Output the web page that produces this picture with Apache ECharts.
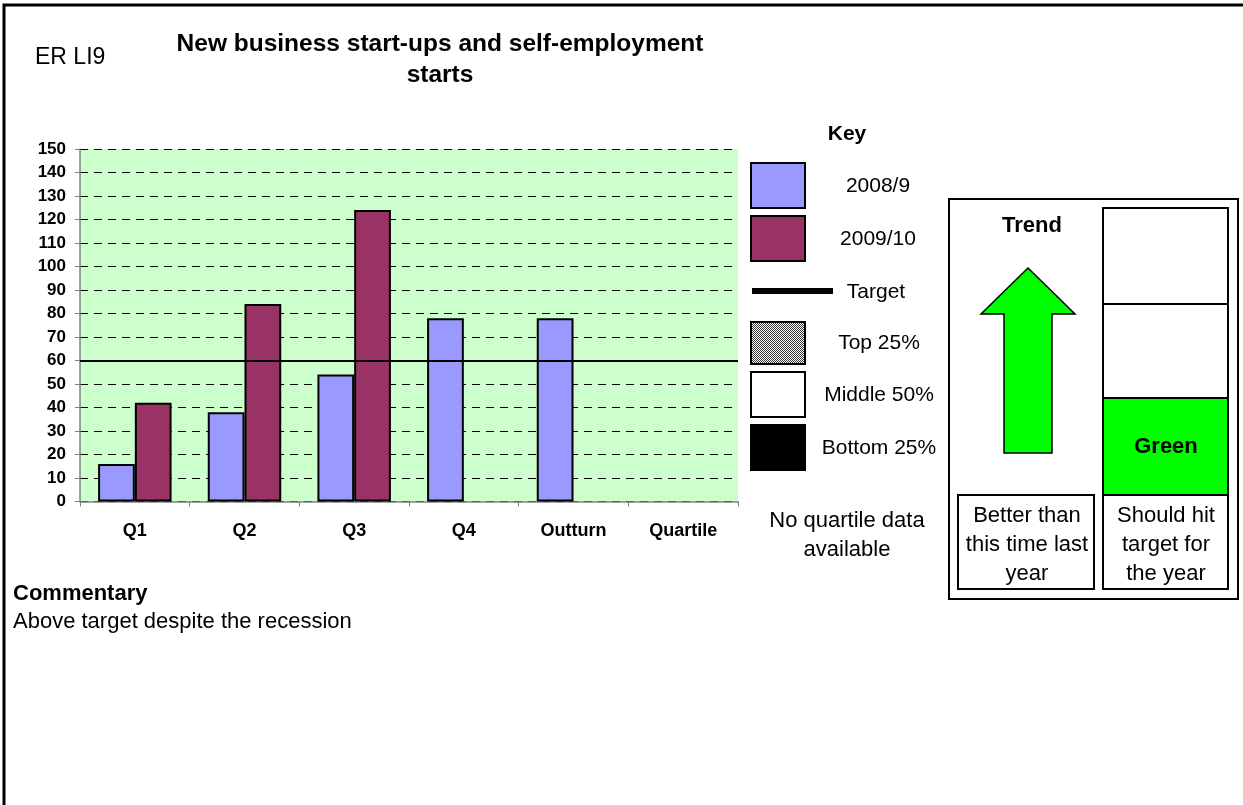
<!DOCTYPE html>
<html>
<head>
<meta charset="utf-8">
<title>ER LI9 - New business start-ups and self-employment starts</title>
<script src="https://cdn.jsdelivr.net/npm/echarts@6/dist/echarts.min.js"></script>
<style>
  html, body { margin: 0; padding: 0; background: #ffffff; }
  #chart { width: 1243px; height: 805px; }
</style>
</head>
<body>
<div id="chart"></div>
<script>
// Quarterly start-ups, two years side by side
const categories = ['Q1', 'Q2', 'Q3', 'Q4', 'Outturn', 'Quartile'];
const values2008 = [16, 38, 54, 78, 78, null];
const values2009 = [42, 84, 124, null, null, null];
const targetValue = 60;
const yTicks = { min: 0, max: 150, interval: 10 };
const seriesNames = ['2008/9', '2009/10'];

const FONT = '"Liberation Sans", Arial, Helvetica, sans-serif';
const BLUE = '#9999FF';
const PLUM = '#993366';
const BRIGHT_GREEN = '#00FF00';

// Fine checker fill for the "Top 25%" key swatch
function checkerPattern() {
  const c = document.createElement('canvas');
  c.width = 2; c.height = 2;
  const g = c.getContext('2d');
  g.fillStyle = '#ffffff'; g.fillRect(0, 0, 2, 2);
  g.fillStyle = '#333333'; g.fillRect(0, 0, 1, 1); g.fillRect(1, 1, 1, 1);
  return { image: c, repeat: 'repeat' };
}

function text(x, y, str, opts) {
  return {
    type: 'text', x: x, y: y, silent: true,
    style: Object.assign({
      text: str, fill: '#000', font: '21px ' + FONT,
      textAlign: 'left', textVerticalAlign: 'middle'
    }, opts || {})
  };
}
function box(x, y, w, h, fill, lw) {
  return {
    type: 'rect', shape: { x: x, y: y, width: w, height: h }, silent: true,
    style: { fill: fill, stroke: '#000', lineWidth: lw || 2 }
  };
}

const chart = echarts.init(document.getElementById('chart'), null, { renderer: 'canvas' });

const KEY_FONT = '21px ' + FONT;
const PANEL_FONT = '22px ' + FONT;

const graphics = [
  // page frame (top and left rules)
  { type: 'polyline', shape: { points: [[4, 805], [4, 5], [1243, 5]] }, silent: true,
    style: { stroke: '#000', lineWidth: 3, fill: null } },

  // heading
  text(35, 58, 'ER LI9', { font: '23px ' + FONT }),
  text(440, 44, 'New business start-ups and self-employment', { font: 'bold 24.5px ' + FONT, textAlign: 'center' }),
  text(440, 75, 'starts', { font: 'bold 24.5px ' + FONT, textAlign: 'center' }),

  // key
  text(847, 134, 'Key', { font: 'bold 21px ' + FONT, textAlign: 'center' }),
  box(751, 163, 54, 45, BLUE),
  text(878, 186, seriesNames[0], { textAlign: 'center', font: KEY_FONT }),
  box(751, 216, 54, 45, PLUM),
  text(878, 239, seriesNames[1], { textAlign: 'center', font: KEY_FONT }),
  { type: 'rect', shape: { x: 752, y: 288, width: 81, height: 6 }, silent: true, style: { fill: '#000' } },
  text(876, 292, 'Target', { textAlign: 'center', font: KEY_FONT }),
  { type: 'rect', shape: { x: 751, y: 322, width: 54, height: 42 }, silent: true,
    style: { fill: checkerPattern(), stroke: '#000', lineWidth: 2 } },
  text(879, 343, 'Top 25%', { textAlign: 'center', font: KEY_FONT }),
  box(751, 372, 54, 45, '#ffffff'),
  text(879, 395, 'Middle 50%', { textAlign: 'center', font: KEY_FONT }),
  box(751, 425, 54, 45, '#000000'),
  text(879, 448, 'Bottom 25%', { textAlign: 'center', font: KEY_FONT }),
  text(847, 521, 'No quartile data', { textAlign: 'center', font: PANEL_FONT }),
  text(847, 550, 'available', { textAlign: 'center', font: PANEL_FONT }),

  // status panel
  box(949, 199, 289, 400, '#ffffff'),
  text(1032, 226, 'Trend', { textAlign: 'center', font: 'bold 22px ' + FONT }),
  { type: 'polygon', silent: true,
    shape: { points: [[1028, 268], [1075, 314], [1052, 314], [1052, 453], [1004, 453], [1004, 314], [981, 314]] },
    style: { fill: BRIGHT_GREEN, stroke: '#000', lineWidth: 1.5 } },
  box(1103, 208, 125, 96, '#ffffff'),
  box(1103, 304, 125, 94, '#ffffff'),
  box(1103, 398, 125, 97, BRIGHT_GREEN),
  text(1166, 447, 'Green', { textAlign: 'center', font: 'bold 22px ' + FONT }),
  box(958, 495, 136, 94, '#ffffff'),
  text(1027, 516, 'Better than', { textAlign: 'center', font: PANEL_FONT }),
  text(1027, 545, 'this time last', { textAlign: 'center', font: PANEL_FONT }),
  text(1027, 574, 'year', { textAlign: 'center', font: PANEL_FONT }),
  box(1103, 495, 125, 94, '#ffffff'),
  text(1166, 516, 'Should hit', { textAlign: 'center', font: PANEL_FONT }),
  text(1166, 545, 'target for', { textAlign: 'center', font: PANEL_FONT }),
  text(1166, 574, 'the year', { textAlign: 'center', font: PANEL_FONT }),

  // commentary
  text(13, 594, 'Commentary', { font: 'bold 22px ' + FONT }),
  text(13, 622, 'Above target despite the recession', { font: '22px ' + FONT })
];

chart.setOption({
  animation: false,
  textStyle: { fontFamily: FONT },
  grid: { left: 80, right: 505, top: 149, bottom: 303.5, show: true,
          backgroundColor: '#CCFFCC', borderWidth: 0 },
  xAxis: {
    type: 'category', data: categories,
    axisLine: { lineStyle: { color: '#808080', width: 1.5 } },
    axisTick: { show: true, length: 5, lineStyle: { color: '#808080' } },
    axisLabel: { color: '#000', fontWeight: 'bold', fontSize: 18, margin: 21, fontFamily: FONT },
    splitLine: { show: false }
  },
  yAxis: {
    type: 'value', min: yTicks.min, max: yTicks.max, interval: yTicks.interval,
    axisLine: { show: true, lineStyle: { color: '#808080', width: 1.5 } },
    axisTick: { show: true, length: 5, lineStyle: { color: '#808080' } },
    axisLabel: { color: '#000', fontWeight: 'bold', fontSize: 17, margin: 14, fontFamily: FONT },
    splitLine: { show: true, lineStyle: { color: '#000', type: [8, 6], width: 1 } }
  },
  series: [
    {
      name: seriesNames[0], type: 'bar', data: values2008,
      barGap: '0%', barCategoryGap: '33%',
      itemStyle: { color: BLUE, borderColor: '#000', borderWidth: 2 },
      markLine: {
        silent: true, symbol: 'none', label: { show: false },
        lineStyle: { color: '#000', type: 'solid', width: 2 },
        data: [{ yAxis: targetValue }]
      }
    },
    {
      name: seriesNames[1], type: 'bar', data: values2009,
      itemStyle: { color: PLUM, borderColor: '#000', borderWidth: 2 }
    }
  ],
  graphic: graphics
});
</script>
</body>
</html>
